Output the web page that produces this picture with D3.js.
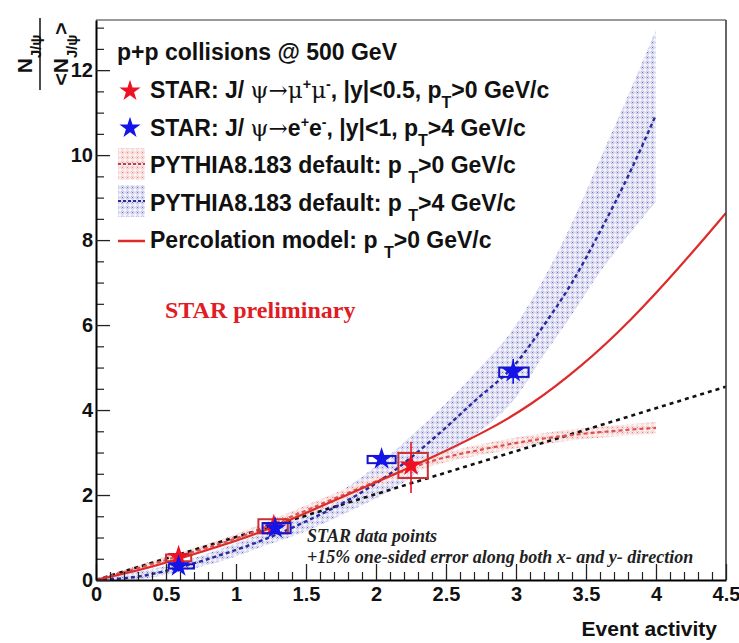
<!DOCTYPE html>
<html><head><meta charset="utf-8">
<script src="https://cdn.jsdelivr.net/npm/d3@7"></script>
<style>
html,body{margin:0;padding:0;background:#fff;}
svg{display:block;}
text{font-family:"Liberation Sans",Arial,Helvetica,sans-serif;}
text.serif{font-family:"Liberation Serif","Times New Roman",serif;}
</style></head>
<body>
<svg id="chart" width="739" height="643"></svg>
<script>
// ---------------- data ----------------
const xTicks = [0, 0.5, 1, 1.5, 2, 2.5, 3, 3.5, 4, 4.5];
const xTickLabels = ["0", "0.5", "1", "1.5", "2", "2.5", "3", "3.5", "4", "4.5"];
const yTicks = [0, 2, 4, 6, 8, 10, 12];
const yTickLabels = ["0", "2", "4", "6", "8", "10", "12"];

// STAR J/psi -> mu mu, pT>0 (red)
const redX = [0.59, 1.27, 2.25];
const redY = [0.55, 1.28, 2.70];
const redBoxX0 = [0.50, 1.16, 2.16];
const redBoxX1 = [0.68, 1.37, 2.37];
const redBoxY0 = [0.44, 1.10, 2.40];
const redBoxY1 = [0.60, 1.43, 2.99];
const redErrLo = [0.50, 1.20, 2.05];
const redErrHi = [0.60, 1.36, 3.25];

// STAR J/psi -> e e, pT>4 (blue)
const blueX = [0.59, 1.28, 2.04, 2.98];
const blueY = [0.33, 1.22, 2.85, 4.90];
const blueBoxX0 = [0.52, 1.19, 1.94, 2.88];
const blueBoxX1 = [0.70, 1.39, 2.14, 3.09];
const blueBoxY0 = [0.27, 1.10, 2.75, 4.78];
const blueBoxY1 = [0.37, 1.34, 2.92, 5.00];
const blueErrLo = [0.20, 1.08, 2.72, 4.62];
const blueErrHi = [0.45, 1.36, 2.98, 5.20];

// PYTHIA8.183 pT>0 (red band)
const pyRedX  = [0, 0.3, 0.6, 1.0, 1.4, 1.8, 2.1, 2.4, 2.8, 3.2, 3.6, 4.0];
const pyRedY  = [0, 0.28, 0.57, 0.98, 1.50, 2.05, 2.45, 2.80, 3.10, 3.33, 3.48, 3.58];
const pyRedHi = [0.03, 0.35, 0.65, 1.08, 1.62, 2.17, 2.57, 2.92, 3.23, 3.46, 3.61, 3.72];
const pyRedLo = [0, 0.20, 0.49, 0.88, 1.38, 1.93, 2.33, 2.68, 2.97, 3.20, 3.35, 3.45];

// PYTHIA8.183 pT>4 (blue band)
const pyBlueX  = [0, 0.3, 0.6, 0.9, 1.2, 1.5, 1.8, 2.1, 2.4, 2.7, 3.0, 3.2, 3.4, 3.6, 3.8, 4.0];
const pyBlueY  = [0, 0.08, 0.30, 0.60, 0.95, 1.38, 1.88, 2.50, 3.30, 4.20, 5.10, 6.00, 7.00, 8.20, 9.50, 10.95];
const pyBlueHi = [0.05, 0.20, 0.42, 0.75, 1.12, 1.60, 2.20, 2.95, 3.85, 4.85, 6.00, 7.10, 8.40, 9.90, 11.40, 12.95];
const pyBlueLo = [0, 0.02, 0.20, 0.45, 0.80, 1.15, 1.60, 2.10, 2.75, 3.40, 4.30, 5.30, 6.25, 7.25, 8.10, 8.90];

// Percolation model pT>0
const percX = [0, 0.3, 0.6, 1.0, 1.2, 1.6, 2.0, 2.4, 2.8, 3.1, 3.46, 3.82, 4.18, 4.5];
const percY = [0, 0.22, 0.50, 0.92, 1.15, 1.72, 2.30, 2.88, 3.52, 4.10, 5.00, 6.10, 7.40, 8.64];

// reference line
const diagX = [0, 4.5];
const diagY = [0, 4.55];

// ---------------- drawing ----------------
const svg = d3.select("#chart");
const X0 = 96, X1 = 726, Y0 = 580, Y1 = 20;
const x = d3.scaleLinear().domain([0, 4.5]).range([X0, X1]);
const y = d3.scaleLinear().domain([0, 13.18]).range([Y0, Y1]);

const defs = svg.append("defs");
function makePattern(id, dot, ring, base) {
  const p = defs.append("pattern").attr("id", id).attr("width", 5).attr("height", 5)
    .attr("patternUnits", "userSpaceOnUse");
  p.append("rect").attr("width", 5).attr("height", 5).attr("fill", base);
  p.append("circle").attr("cx", 2.5).attr("cy", 2.5).attr("r", 1.6)
    .attr("fill", "none").attr("stroke", ring).attr("stroke-width", 0.7);
  p.append("circle").attr("cx", 2.5).attr("cy", 2.5).attr("r", 0.55).attr("fill", dot);
}
makePattern("patBlue", "#5a5ab0", "#a4a4da", "#f3f3fb");
makePattern("patRed", "#e07070", "#efb0b0", "#fcf2f2");

defs.append("clipPath").attr("id", "frameClip").append("rect")
  .attr("x", X0).attr("y", Y1).attr("width", X1 - X0).attr("height", Y0 - Y1);

const plot = svg.append("g").attr("clip-path", "url(#frameClip)");

const area = (xs, lo, hi) => d3.area()
  .x((d, i) => x(xs[i])).y0((d, i) => y(lo[i])).y1((d, i) => y(hi[i]))
  .curve(d3.curveMonotoneX)(xs);
const line = (xs, ys, curve) => d3.line()
  .x((d, i) => x(xs[i])).y((d, i) => y(ys[i]))
  .curve(curve || d3.curveMonotoneX)(xs);

// bands
plot.append("path").attr("d", area(pyBlueX, pyBlueLo, pyBlueHi)).attr("fill", "url(#patBlue)");
plot.append("path").attr("d", area(pyRedX, pyRedLo, pyRedHi)).attr("fill", "url(#patRed)");

// lines
plot.append("path").attr("d", line(diagX, diagY, d3.curveLinear))
  .attr("fill", "none").attr("stroke", "#111").attr("stroke-width", 2.6).attr("stroke-dasharray", "4,4");
plot.append("path").attr("d", line(pyRedX, pyRedY))
  .attr("fill", "none").attr("stroke", "#e05050").attr("stroke-width", 2.2).attr("stroke-dasharray", "4,3");
plot.append("path").attr("d", line(pyBlueX, pyBlueY))
  .attr("fill", "none").attr("stroke", "#2a2aa0").attr("stroke-width", 2.4).attr("stroke-dasharray", "4,3");
plot.append("path").attr("d", line(percX, percY, d3.curveBasis))
  .attr("fill", "none").attr("stroke", "#dd2a2a").attr("stroke-width", 2.2);

// data points
const star = (s) => d3.symbol().type(d3.symbolStar).size(s)();
function drawPoints(xs, ys, bx0, bx1, by0, by1, elo, ehi, col, boxCol) {
  xs.forEach((xv, i) => {
    plot.append("rect")
      .attr("x", x(bx0[i])).attr("y", y(by1[i]))
      .attr("width", x(bx1[i]) - x(bx0[i])).attr("height", y(by0[i]) - y(by1[i]))
      .attr("fill", "none").attr("stroke", boxCol).attr("stroke-width", 2);
    plot.append("line").attr("x1", x(xv)).attr("x2", x(xv))
      .attr("y1", y(elo[i])).attr("y2", y(ehi[i]))
      .attr("stroke", col).attr("stroke-width", 1.6);
    plot.append("path").attr("d", star(160))
      .attr("transform", `translate(${x(xv)},${y(ys[i])})`).attr("fill", col);
  });
}
drawPoints(redX, redY, redBoxX0, redBoxX1, redBoxY0, redBoxY1, redErrLo, redErrHi, "#ee1122", "#cc3030");
drawPoints(blueX, blueY, blueBoxX0, blueBoxX1, blueBoxY0, blueBoxY1, blueErrLo, blueErrHi, "#1414e8", "#1414c8");

// frame
svg.append("line").attr("x1", X0).attr("x2", X1).attr("y1", Y1).attr("y2", Y1).attr("stroke", "#777").attr("stroke-width", 1.5);
svg.append("line").attr("x1", X1).attr("x2", X1).attr("y1", Y1).attr("y2", Y0).attr("stroke", "#333").attr("stroke-width", 1.5);

// axes
const xMinor = d3.range(0, 4.5001, 0.1).filter(v => Math.abs(v * 2 - Math.round(v * 2)) > 1e-6);
svg.append("g").attr("transform", `translate(0,${Y0})`)
  .call(d3.axisBottom(x).tickValues(xMinor).tickSize(-8).tickFormat(""))
  .call(g => g.select(".domain").remove())
  .call(g => g.selectAll("line").attr("stroke", "#222").attr("stroke-width", 1.2));
svg.append("g").attr("transform", `translate(0,${Y0})`)
  .call(d3.axisBottom(x).tickValues(xTicks).tickSize(-16).tickPadding(7)
        .tickFormat((d, i) => xTickLabels[i]).tickSizeOuter(0))
  .call(g => g.select(".domain").attr("stroke", "#000").attr("stroke-width", 2))
  .call(g => g.selectAll("line").attr("stroke", "#222").attr("stroke-width", 1.3))
  .call(g => g.selectAll("text").attr("font-size", 20).attr("font-weight", "bold")
        .attr("fill", "#111").style("font-family", "Liberation Sans, Arial, sans-serif"));

const yMinor = d3.range(0.5, 13.1, 0.5).filter(v => Math.abs(v / 2 - Math.round(v / 2)) > 1e-6);
svg.append("g").attr("transform", `translate(${X0},0)`)
  .call(d3.axisLeft(y).tickValues(yMinor).tickSize(-8).tickFormat(""))
  .call(g => g.select(".domain").remove())
  .call(g => g.selectAll("line").attr("stroke", "#222").attr("stroke-width", 1.2));
svg.append("g").attr("transform", `translate(${X0},0)`)
  .call(d3.axisLeft(y).tickValues(yTicks).tickSize(-14).tickPadding(3)
        .tickFormat((d, i) => yTickLabels[i]).tickSizeOuter(0))
  .call(g => g.select(".domain").attr("stroke", "#000").attr("stroke-width", 2))
  .call(g => g.selectAll("line").attr("stroke", "#222").attr("stroke-width", 1.3))
  .call(g => g.selectAll("text").attr("font-size", 20).attr("font-weight", "bold")
        .attr("fill", "#111").style("font-family", "Liberation Sans, Arial, sans-serif"));

// rich text helper: n normal, s sup, b sub, g greek (serif)
function rich(sel, segs, fs) {
  let off = 0;
  segs.forEach(([t, k]) => {
    let target = 0, size = fs;
    if (k === "s") { target = -0.38 * fs; size = 0.62 * fs; }
    if (k === "b") { target = 0.45 * fs; size = 0.7 * fs; }
    const sp = sel.append("tspan").text(t).attr("dy", target - off).attr("font-size", size);
    if (k === "g") sp.style("font-family", "DejaVu Serif, Liberation Serif, serif").attr("font-weight", "normal");
    off = target;
  });
}

// axis titles
svg.append("text").attr("x", 717).attr("y", 636).attr("text-anchor", "end")
  .attr("font-size", 21).attr("font-weight", "bold").attr("fill", "#111").text("Event activity");

const yt = svg.append("g").attr("transform", "translate(40,54) rotate(-90)");
rich(yt.append("text").attr("x", 0).attr("y", -8).attr("text-anchor", "middle")
  .attr("font-weight", "bold").attr("fill", "#111"), [["N", "n"], ["J/ψ", "b"]], 21);
yt.append("line").attr("x1", -36).attr("x2", 36).attr("y1", 0).attr("y2", 0)
  .attr("stroke", "#111").attr("stroke-width", 1.5);
rich(yt.append("text").attr("x", 0).attr("y", 28).attr("text-anchor", "middle")
  .attr("font-weight", "bold").attr("fill", "#111"), [["<N", "n"], ["J/ψ", "b"], [">", "n"]], 21);

// legend
const LF = 23;
const leg = svg.append("g").attr("font-weight", "bold").attr("fill", "#111");
leg.append("text").attr("x", 117).attr("y", 60).attr("font-size", LF).text("p+p collisions @ 500 GeV");

const rows = [
  { y: 98, segs: [["STAR: J/ ", "n"], ["ψ→μ", "g"], ["+", "s"], ["μ", "g"], ["-", "s"], [", |y|<0.5, p", "n"], ["T", "b"], [">0 GeV/c", "n"]] },
  { y: 136, segs: [["STAR: J/ ", "n"], ["ψ→", "g"], ["e", "n"], ["+", "s"], ["e", "n"], ["-", "s"], [", |y|<1, p", "n"], ["T", "b"], [">4 GeV/c", "n"]] },
  { y: 173, segs: [["PYTHIA8.183 default: p ", "n"], ["T", "b"], [">0 GeV/c", "n"]] },
  { y: 211, segs: [["PYTHIA8.183 default: p ", "n"], ["T", "b"], [">4 GeV/c", "n"]] },
  { y: 248, segs: [["Percolation model: p ", "n"], ["T", "b"], [">0 GeV/c", "n"]] }
];
rows.forEach(r => rich(leg.append("text").attr("x", 150).attr("y", r.y), r.segs, LF));

// legend markers
leg.append("path").attr("d", star(140)).attr("transform", "translate(130,91)").attr("fill", "#ee1122");
leg.append("path").attr("d", star(140)).attr("transform", "translate(130,128)").attr("fill", "#1414e8");
leg.append("rect").attr("x", 118).attr("y", 148).attr("width", 27).attr("height", 32).attr("fill", "url(#patRed)");
leg.append("line").attr("x1", 118).attr("x2", 145).attr("y1", 164).attr("y2", 164)
  .attr("stroke", "#c04050").attr("stroke-width", 2).attr("stroke-dasharray", "3,2");
leg.append("rect").attr("x", 118).attr("y", 185).attr("width", 27).attr("height", 32).attr("fill", "url(#patBlue)");
leg.append("line").attr("x1", 118).attr("x2", 145).attr("y1", 201).attr("y2", 201)
  .attr("stroke", "#2a2aa0").attr("stroke-width", 2).attr("stroke-dasharray", "3,2");
leg.append("line").attr("x1", 118).attr("x2", 145).attr("y1", 241).attr("y2", 241)
  .attr("stroke", "#dd2a2a").attr("stroke-width", 2.5);

// annotations
svg.append("text").attr("class", "serif").attr("x", 165).attr("y", 318)
  .attr("font-size", 24).attr("font-weight", "bold").attr("fill", "#e01c24").text("STAR preliminary");
const note = svg.append("g").attr("font-style", "italic").attr("font-weight", "bold")
  .attr("font-size", 18).attr("fill", "#222");
note.append("text").attr("class", "serif").attr("x", 307).attr("y", 542).text("STAR data points");
note.append("text").attr("class", "serif").attr("x", 307).attr("y", 563)
  .text("+15% one-sided error along both x- and y- direction");
</script>
</body></html>
